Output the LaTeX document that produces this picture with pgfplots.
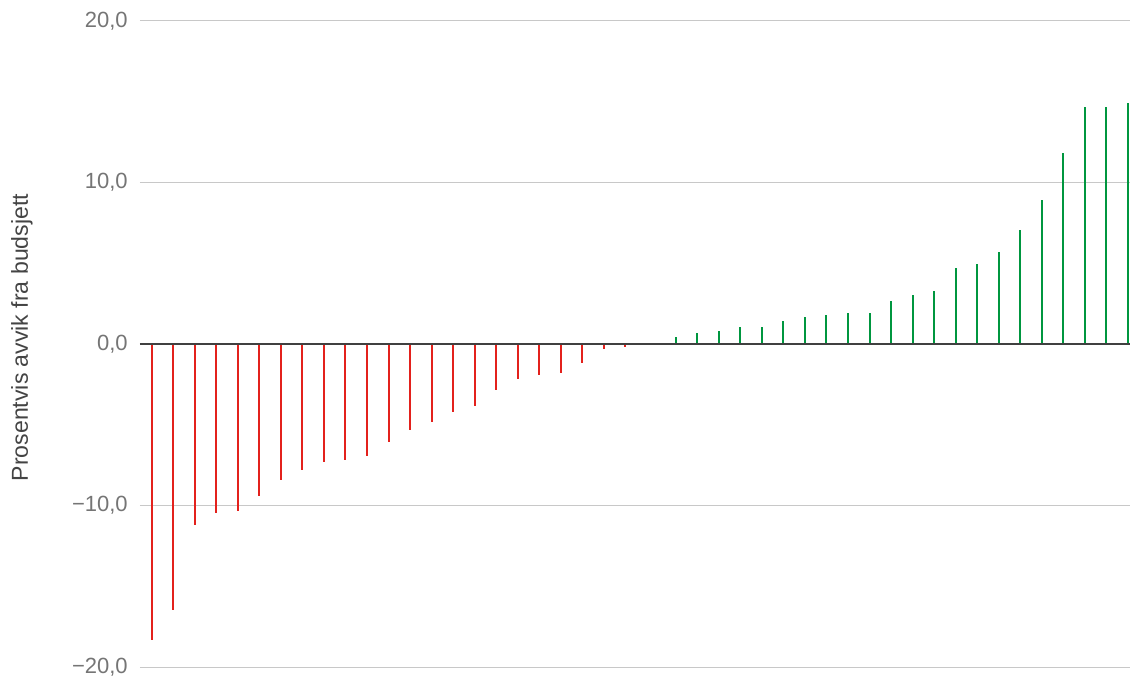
\documentclass[border=0pt]{standalone}
\usepackage{pgfplots}
\pgfplotsset{compat=1.18}
\usepackage{fontspec}
\setmainfont{Liberation Sans}
\definecolor{barred}{HTML}{E3211C}
\definecolor{bargreen}{HTML}{00963F}
\definecolor{ticktext}{HTML}{757575}
\definecolor{labeltext}{HTML}{444444}
\definecolor{gridc}{HTML}{C8C8C8}
\begin{document}
\begin{tikzpicture}
\useasboundingbox (-105pt,-7.5pt) rectangle (742.5pt,500.25pt);
\begin{axis}[
  at={(0,0)}, anchor=south west,
  scale only axis,
  width=742.5pt, height=484.5pt,
  xmin=-0.543, xmax=45.44,
  ymin=-20, ymax=20,
  clip=false,
  axis line style={draw=none},
  major tick length=0pt,
  xtick=\empty,
  ytick={-20,-10,0,10,20},
  yticklabels={{−20,0},{−10,0},{0,0},{10,0},{20,0}},
  ymajorgrids,
  grid style={gridc, line width=0.75pt},
  yticklabel style={anchor=east, inner sep=0pt, xshift=-9pt,
    font=\fontsize{16.5}{18}\selectfont, text=ticktext},
  ylabel={Prosentvis avvik fra budsjett},
  ylabel style={at={(axis description cs:-0.1192,0.51)}, rotate=0, anchor=center,
    font=\fontsize{17.3}{19}\selectfont, text=labeltext},
]
\addplot[barred, line width=1.5pt, ycomb, mark=none] coordinates {
(0,-18.33) (1,-16.46) (2,-11.20) (3,-10.45) (4,-10.33) (5,-9.44) (6,-8.44)
(7,-7.82) (8,-7.32) (9,-7.19) (10,-6.95) (11,-6.07) (12,-5.30) (13,-4.83)
(14,-4.18) (15,-3.83) (16,-2.83) (17,-2.18) (18,-1.93) (19,-1.81) (20,-1.18)
(21,-0.29) (22,-0.17)
};
\addplot[bargreen, line width=1.5pt, ycomb, mark=none] coordinates {
(24.34,0.41) (25.34,0.69) (26.34,0.79) (27.34,1.03) (28.34,1.03) (29.34,1.43)
(30.34,1.68) (31.34,1.81) (32.34,1.93) (33.34,1.93) (34.34,2.68) (35.34,3.05)
(36.34,3.30) (37.34,4.68) (38.34,4.93) (39.34,5.67) (40.34,7.04) (41.34,8.92)
(42.34,11.80) (43.34,14.67) (44.34,14.67) (45.34,14.94)
};
\addplot[black!75, line width=1.1pt, mark=none] coordinates {(-0.543,0) (45.44,0)};
\end{axis}
\end{tikzpicture}
\end{document}
